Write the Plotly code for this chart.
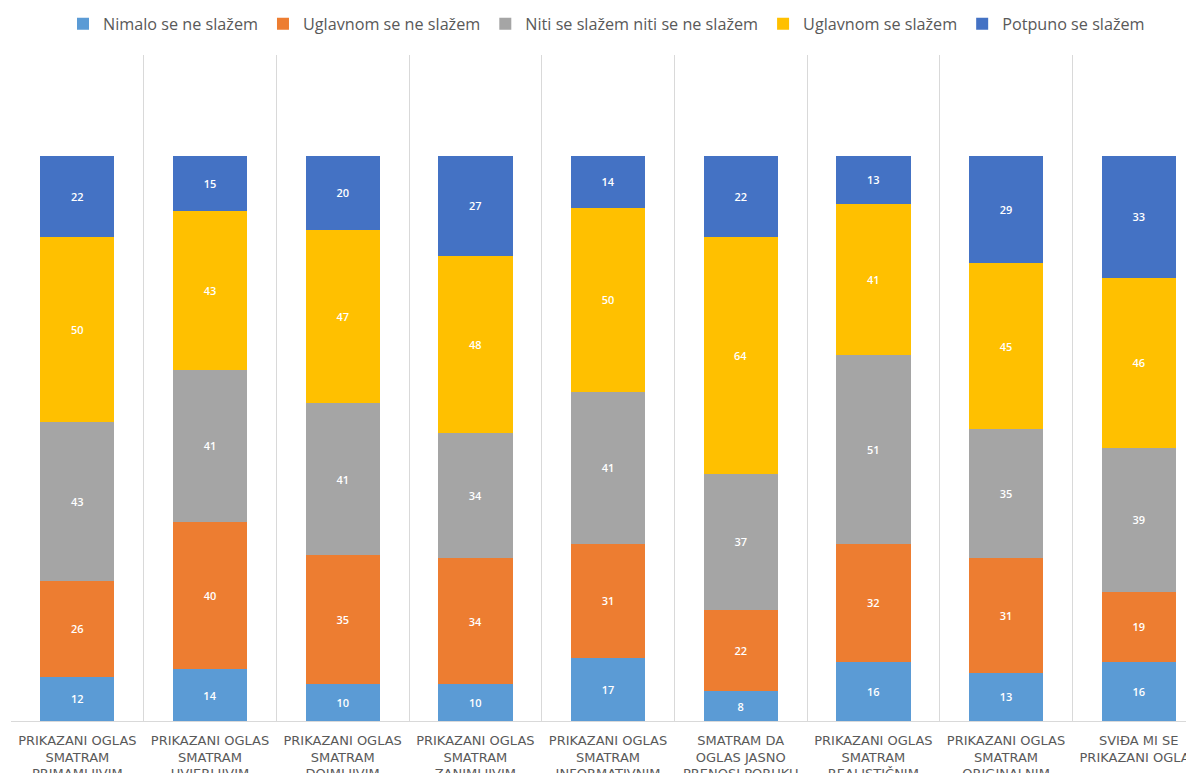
import plotly.graph_objects as go

categories = [
    "PRIKAZANI OGLAS<br>SMATRAM<br>PRIMAMLJIVIM",
    "PRIKAZANI OGLAS<br>SMATRAM<br>UVJERLJIVIM",
    "PRIKAZANI OGLAS<br>SMATRAM<br>DOJMLJIVIM",
    "PRIKAZANI OGLAS<br>SMATRAM<br>ZANIMLJIVIM",
    "PRIKAZANI OGLAS<br>SMATRAM<br>INFORMATIVNIM",
    "SMATRAM DA<br>OGLAS JASNO<br>PRENOSI PORUKU",
    "PRIKAZANI OGLAS<br>SMATRAM<br>REALISTIČNIM",
    "PRIKAZANI OGLAS<br>SMATRAM<br>ORIGINALNIM",
    "SVIĐA MI SE<br>PRIKAZANI OGLAS",
]

series_names = [
    "Nimalo se ne slažem",
    "Uglavnom se ne slažem",
    "Niti se slažem niti se ne slažem",
    "Uglavnom se slažem",
    "Potpuno se slažem",
]

nimalo = [12, 14, 10, 10, 17, 8, 16, 13, 16]
uglavnom_ne = [26, 40, 35, 34, 31, 22, 32, 31, 19]
niti = [43, 41, 41, 34, 41, 37, 51, 35, 39]
uglavnom_da = [50, 43, 47, 48, 50, 64, 41, 45, 46]
potpuno = [22, 15, 20, 27, 14, 22, 13, 29, 33]

colors = ["#5B9BD5", "#ED7D31", "#A5A5A5", "#FFC000", "#4472C4"]

fig = go.Figure()
for name, vals, col in zip(series_names, [nimalo, uglavnom_ne, niti, uglavnom_da, potpuno], colors):
    fig.add_trace(go.Bar(
        x=categories, y=vals, name=name,
        marker=dict(color=col, line=dict(width=0)),
        text=vals, textposition="inside", insidetextanchor="middle",
        textfont=dict(color="white", size=11, family="Open Sans", weight=600),
        constraintext="none",
    ))

fig.update_layout(
    barmode="stack",
    bargap=0.44,
    width=1194, height=773,
    paper_bgcolor="white", plot_bgcolor="white",
    margin=dict(l=3, r=0, t=47, b=60, autoexpand=False),
    font=dict(family="Open Sans", color="#595959"),
    legend=dict(
        orientation="h", x=0.5, xanchor="center", yref="container", y=0.979, yanchor="middle",
        font=dict(size=16.2, color="#595959", family="Open Sans"),
        traceorder="normal", itemwidth=30,
    ),
    showlegend=True,
)
fig.update_xaxes(
    type="category", range=[-0.5, 8.477], tickson="boundaries", automargin=False,
    showgrid=True, gridcolor="#D9D9D9", gridwidth=1,
    showline=True, linecolor="#D9D9D9", linewidth=1,
    ticks="", ticklabelstandoff=7,
    tickfont=dict(size=13, color="#595959", family="DejaVu Sans"),
    tickangle=0,
)
fig.update_yaxes(range=[0, 180.3], visible=False, showgrid=False, automargin=False)

fig.write_html("out.html")
